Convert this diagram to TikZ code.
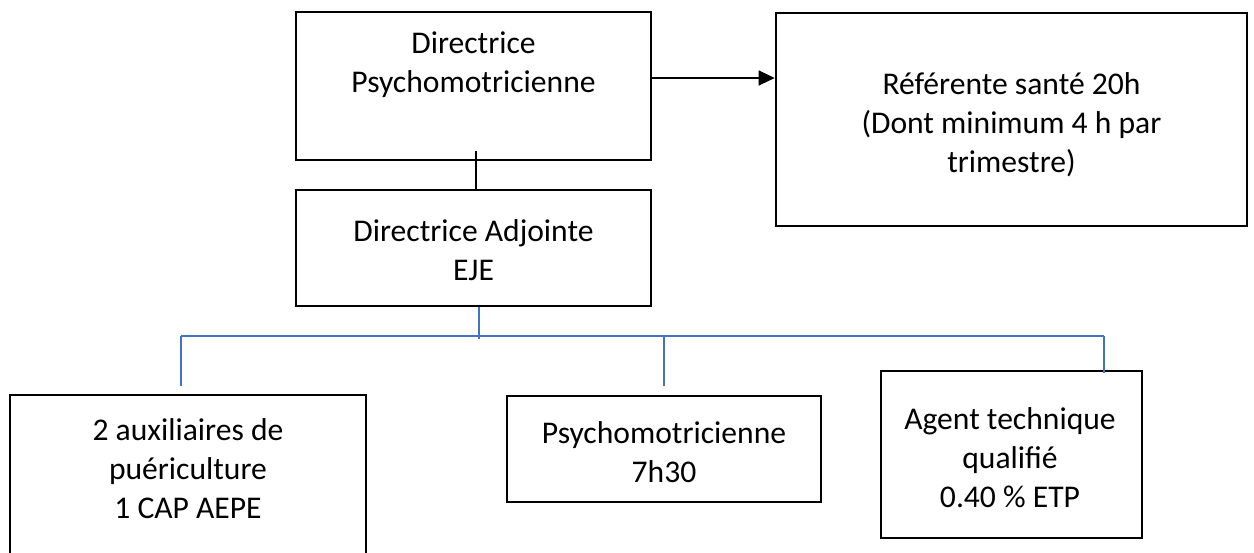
\documentclass[tikz,border=0pt]{standalone}
\usepackage{fontspec}
\setmainfont{Carlito}
\usetikzlibrary{arrows.meta}
\definecolor{conblue}{HTML}{4472C4}
\begin{document}
\begin{tikzpicture}[x=1pt,y=-1pt,
  box/.style={draw=black,line width=2.6pt,rectangle,inner sep=0pt},
  txt/.style={align=center,inner sep=0pt,font=\fontsize{31.6}{39}\selectfont},
  blk/.style={draw=black,line width=1.2pt},
  blu/.style={draw=conblue,line width=1.1pt}]
\clip (0,0) rectangle (1254,553);
\fill[white] (0,0) rectangle (1254,553);
% boxes
\node[box,minimum width=355pt,minimum height=148pt] (box1) at (473.5,86) {};
\node[box,minimum width=355pt,minimum height=116pt] (box2) at (473.5,248) {};
\node[box,minimum width=471pt,minimum height=213pt] (box3) at (1011.5,119.5) {};
\node[box,minimum width=356pt,minimum height=200pt] (box4) at (188,495) {};
\node[box,minimum width=314pt,minimum height=106pt] (box5) at (664,449) {};
\node[box,minimum width=261pt,minimum height=167pt] (box6) at (1011.5,454.5) {};
% texts
\node[txt] (t1) at (473.5,65) {Directrice\\Psychomotricienne};
\node[txt] (t2) at (473.5,250) {Directrice Adjointe\\EJE};
\node[txt] (t3) at (1011.5,125) {Référente santé 20h\\(Dont minimum 4 h par\\trimestre)};
\node[txt] (t4) at (188,469) {2 auxiliaires de\\puériculture\\1 CAP AEPE};
\node[txt] (t5) at (664,452) {Psychomotricienne\\7h30};
\node[txt] (t6) at (1010,458) {Agent technique\\qualifié\\0.40 \% ETP};
% connectors
\draw[blk,-{Triangle[length=16pt,width=15pt]}] (box1.east |- 0,78) -- (box3.west |- 0,78);
\draw[blk] ([xshift=2.5pt,yshift=10pt]box1.south) -- ([xshift=2.5pt]box2.north);
\coordinate (hubL) at (181,336);
\coordinate (hubR) at (1104,336);
\coordinate (d1) at (181,386);
\coordinate (d2) at (664,386);
\coordinate (d3) at (1104,373);
\draw[blu] ([xshift=5.5pt]box2.south) -- ([xshift=5.5pt,yshift=-32pt]box2.south);
\draw[blu] (hubL) -- (hubR);
\draw[blu] (hubL) -- (d1);
\draw[blu] (d2 |- hubL) -- (d2);
\draw[blu] (hubR) -- (d3);
\end{tikzpicture}
\end{document}
